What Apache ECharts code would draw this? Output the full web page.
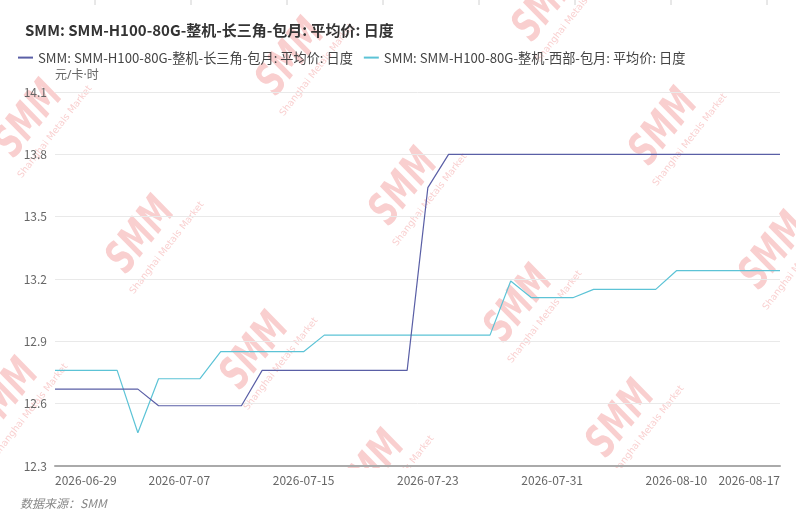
<!DOCTYPE html>
<html><head><meta charset="utf-8">
<script src="https://cdn.jsdelivr.net/npm/echarts@6/dist/echarts.min.js"></script>
<style>html,body{margin:0;padding:0;background:#fff}#c{width:796px;height:520px}</style>
</head><body><div id="c"></div>
<script>
const titleText = 'SMM: SMM-H100-80G-整机-长三角-包月: 平均价: 日度';
const seriesNames = ['SMM: SMM-H100-80G-整机-长三角-包月: 平均价: 日度', 'SMM: SMM-H100-80G-整机-西部-包月: 平均价: 日度'];
const dates = ['2026-06-29','2026-06-30','2026-07-01','2026-07-02','2026-07-03','2026-07-06','2026-07-07','2026-07-08','2026-07-09','2026-07-10',
 '2026-07-13','2026-07-14','2026-07-15','2026-07-16','2026-07-17','2026-07-20','2026-07-21','2026-07-22','2026-07-23','2026-07-24',
 '2026-07-27','2026-07-28','2026-07-29','2026-07-30','2026-07-31','2026-08-03','2026-08-04','2026-08-05','2026-08-06','2026-08-07',
 '2026-08-10','2026-08-11','2026-08-12','2026-08-13','2026-08-14','2026-08-17'];
const yangtze = [12.67,12.67,12.67,12.67,12.67,12.59,12.59,12.59,12.59,12.59,
 12.76,12.76,12.76,12.76,12.76,12.76,12.76,12.76,13.64,13.8,
 13.8,13.8,13.8,13.8,13.8,13.8,13.8,13.8,13.8,13.8,
 13.8,13.8,13.8,13.8,13.8,13.8];
const west = [12.76,12.76,12.76,12.76,12.46,12.72,12.72,12.72,12.85,12.85,
 12.85,12.85,12.85,12.93,12.93,12.93,12.93,12.93,12.93,12.93,
 12.93,12.93,13.19,13.11,13.11,13.11,13.15,13.15,13.15,13.15,
 13.24,13.24,13.24,13.24,13.24,13.24];
const yTicks = {min: 12.3, max: 14.1, interval: 0.3};
const unitName = '元/卡·时';
const sourceText = '数据来源：SMM';

const wmColor = 'rgba(236,96,96,0.30)';
const wmPos = [[30,120],[142,236],[256,352],[372,470],[292,58],[405,188],[520,305],[622,420],[548,4],[665,128],[775,252],[6,398]];
const wm = wmPos.map(p => ({
  type: 'group', x: p[0], y: p[1], rotation: 52 * Math.PI / 180, z: -10, silent: true,
  children: [
    {type: 'text', x: 0, y: 0, z: -10, scaleX: 0.68, style: {text: 'SMM', fill: wmColor, font: 'italic bold 44px "DejaVu Sans", sans-serif', align: 'center', verticalAlign: 'middle'}},
    {type: 'text', x: 6, y: 27, z: -10, style: {text: 'Shanghai Metals Market', fill: wmColor, font: '9.5px "DejaVu Sans", sans-serif', align: 'center', verticalAlign: 'middle'}}
  ]
}));
// cover watermark parts below the plot (reference clips them there)
const cover = {type: 'rect', z: -5, silent: true, shape: {x: 0, y: 468, width: 796, height: 52}, style: {fill: '#fff'}};
const topMarks = [95,191,287,383,479,575,671,767].map(x => ({type: 'line', z: -5, silent: true, shape: {x1: x, y1: 0, x2: x, y2: 5}, style: {stroke: '#d0d0d0', lineWidth: 1}}));

const chart = echarts.init(document.getElementById('c'));
const ff = '"Noto Sans CJK SC", "Noto Sans", sans-serif';
chart.setOption({
  animation: false,
  textStyle: {fontFamily: ff},
  color: ['#5a5fa6', '#5cc3d6'],
  title: {text: titleText, left: 20, top: 18, textStyle: {fontSize: 15, fontWeight: 'bold', color: '#333', fontFamily: ff}},
  legend: {left: 13, top: 46, icon: 'rect', itemWidth: 15, itemHeight: 2, itemGap: 11,
    textStyle: {fontSize: 13.2, color: '#444', fontFamily: ff}, data: seriesNames},
  grid: {left: 55, right: 16, top: 92, bottom: 54, containLabel: false},
  xAxis: {type: 'category', data: dates, boundaryGap: false,
    axisLine: {lineStyle: {color: '#aaa', width: 2}}, axisTick: {show: false},
    axisLabel: {color: '#666', fontSize: 12, margin: 8, interval: (i) => i % 6 === 0 || i === dates.length - 1,
      alignMinLabel: 'left', alignMaxLabel: 'right'}},
  yAxis: {type: 'value', min: yTicks.min, max: yTicks.max, interval: yTicks.interval,
    name: unitName, nameGap: 10, nameTextStyle: {align: 'left', color: '#666', fontSize: 12, fontFamily: '"Noto Sans", "Noto Sans CJK SC", sans-serif'},
    axisLine: {show: false}, axisTick: {show: false},
    axisLabel: {color: '#666', fontSize: 12, margin: 8, formatter: v => v.toFixed(1)},
    splitLine: {lineStyle: {color: '#e9e9e9'}}},
  graphic: wm.concat([cover], topMarks, [{type: 'text', left: 20, top: 497, style: {text: sourceText, fill: '#888', font: 'italic 12px ' + ff}}]),
  series: [
    {name: seriesNames[0], type: 'line', data: yangtze, symbol: 'none', lineStyle: {width: 1.2}, z: 5},
    {name: seriesNames[1], type: 'line', data: west, symbol: 'none', lineStyle: {width: 1.2}, z: 4}
  ]
});
</script></body></html>
